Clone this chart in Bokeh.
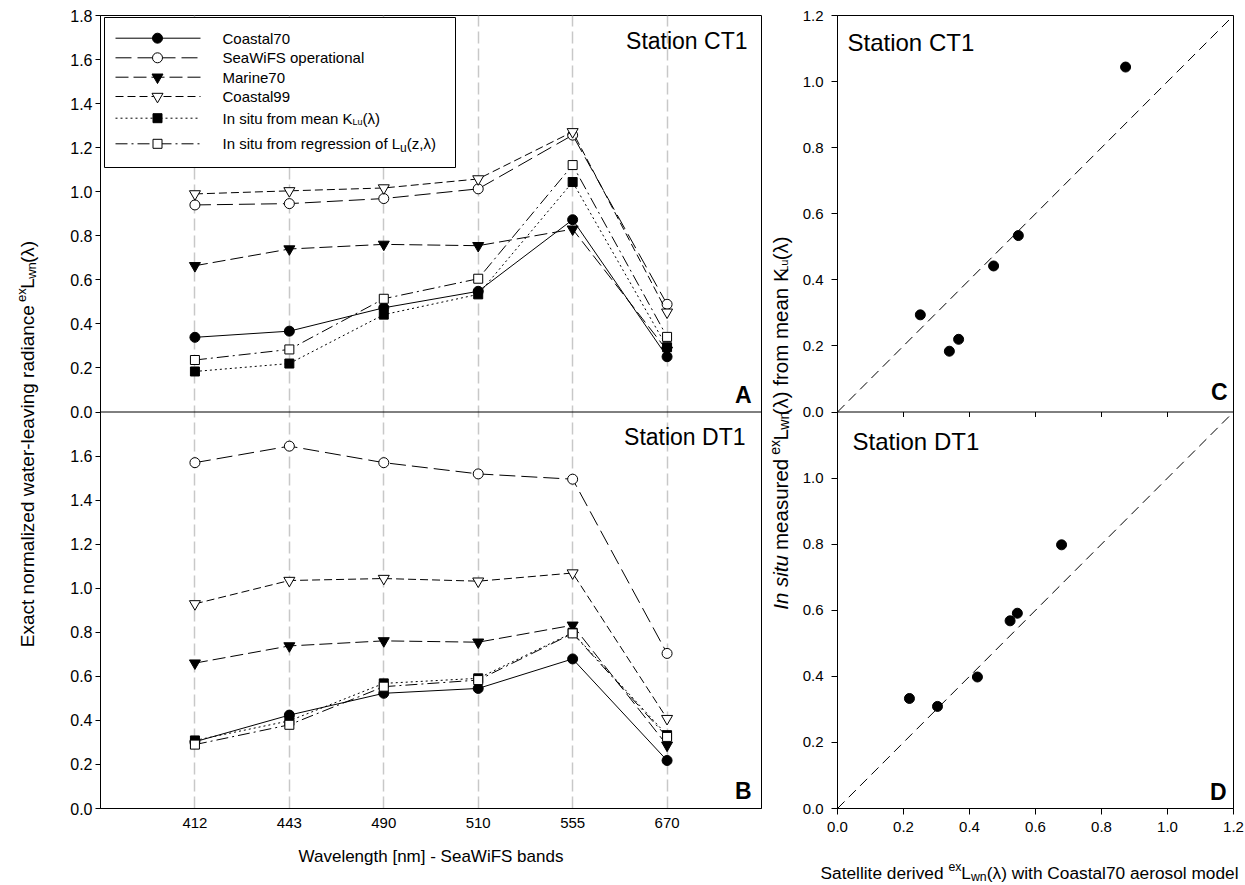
import math
from bokeh.plotting import figure
from bokeh.models import Range1d, FixedTicker, CustomJSTickFormatter, Label, Span
from bokeh.layouts import row, column
from bokeh.embed import file_html
from bokeh.resources import INLINE

# ---------------- data ----------------
bands = ["412", "443", "490", "510", "555", "670"]

# Station CT1 (panel A)
ct1_coastal70 = [0.339, 0.367, 0.473, 0.548, 0.873, 0.251]
ct1_seawifs = [0.940, 0.946, 0.969, 1.013, 1.257, 0.489]
ct1_marine70 = [0.664, 0.740, 0.761, 0.755, 0.830, 0.280]
ct1_coastal99 = [0.990, 1.004, 1.017, 1.058, 1.272, 0.453]
ct1_insitu_meank = [0.184, 0.220, 0.442, 0.534, 1.044, 0.294]
ct1_insitu_regr = [0.236, 0.284, 0.514, 0.605, 1.121, 0.341]

# Station DT1 (panel B)
dt1_coastal70 = [0.303, 0.424, 0.523, 0.545, 0.679, 0.218]
dt1_seawifs = [1.570, 1.645, 1.570, 1.519, 1.495, 0.704]
dt1_marine70 = [0.660, 0.738, 0.761, 0.755, 0.832, 0.287]
dt1_coastal99 = [0.929, 1.035, 1.044, 1.032, 1.069, 0.408]
dt1_insitu_meank = [0.309, 0.398, 0.568, 0.591, 0.798, 0.333]
dt1_insitu_regr = [0.290, 0.380, 0.553, 0.583, 0.795, 0.325]

ticks_ab = [0.0, 0.2, 0.4, 0.6, 0.8, 1.0, 1.2, 1.4, 1.6, 1.8]
ticks_cd = [0.0, 0.2, 0.4, 0.6, 0.8, 1.0, 1.2]

ct1 = [ct1_coastal70, ct1_seawifs, ct1_marine70, ct1_coastal99, ct1_insitu_meank, ct1_insitu_regr]
dt1 = [dt1_coastal70, dt1_seawifs, dt1_marine70, dt1_coastal99, dt1_insitu_meank, dt1_insitu_regr]

# ---------------- styles ----------------
FONT = "Liberation Sans"
line_dashes = ["solid", "16 6", "13 5", "8 4", "2 3", "12 4 2 4"]
markers = ["circle", "circle", "inverted_triangle", "inverted_triangle", "square", "square"]
fills = ["black", "white", "black", "white", "black", "white"]
sizes = [10, 10, 11, 11, 9, 9]

A_MAX = ticks_ab[-1]
C_MAX = ticks_cd[-1]

# geometry (page pixels)
W, H = 1245, 885
TOP_H = 845                     # height of the row holding the panels
TOP, BOT = 15, TOP_H - 808
LT_W = 58                       # strip for left y title
L_W, L_BL, L_BR = 704, 42, 1    # left figure (frame 100..761)
MT_W = 36                       # strip for right y title (762..798)
R_W, R_BL, R_BR = W - LT_W - L_W - MT_W, 39, 12   # right figure (frame 837..1233)
LX0, LX1 = LT_W + L_BL, LT_W + L_W - L_BR
RX0, RX1 = LT_W + L_W + MT_W + R_BL, W - R_BR
Y0, Y1 = TOP_H - BOT, TOP

xs = list(range(1, len(bands) + 1))
L_XMAX = len(bands) + 1


def lx(px):
    return (px - LX0) / (LX1 - LX0) * L_XMAX


def ly(py):
    return (Y0 - py) / (Y0 - Y1) * (2 * A_MAX)


def rx(px):
    return (px - RX0) / (RX1 - RX0) * C_MAX


def ry(py):
    return (Y0 - py) / (Y0 - Y1) * (2 * C_MAX)


def ident(v):
    return v


CW = {' ': 278, '(': 333, ')': 333, '-': 333, '.': 278, ',': 278, '[': 278, ']': 278,
      'A': 667, 'B': 667, 'C': 722, 'D': 722, 'E': 667, 'F': 611, 'I': 278, 'K': 667,
      'L': 556, 'M': 833, 'S': 667, 'T': 611, 'W': 944,
      'a': 556, 'b': 556, 'c': 500, 'd': 556, 'e': 556, 'f': 278, 'g': 556, 'h': 556,
      'i': 222, 'l': 222, 'm': 833, 'n': 556, 'o': 556, 'p': 556, 'r': 333, 's': 500,
      't': 278, 'u': 556, 'v': 500, 'w': 722, 'x': 500, 'z': 500, 'λ': 500}


def tw(text, size):
    return sum(CW.get(c, 556) for c in text) * size / 1000.0


def layout_pieces(pieces, k=1.0):
    pos = 0.0
    out = []
    for piece in pieces:
        t, s, off, style = piece[:4]
        extra = piece[4] if len(piece) > 4 else 0.0
        core = t.strip(" ")
        lead = len(t) - len(t.lstrip(" "))
        trail = len(t) - len(t.rstrip(" "))
        pos += lead * tw(" ", s) * k
        w = tw(core, s) * k
        out.append((core, s, off, style, pos + w / 2))
        pos += w + trail * tw(" ", s) * k + extra
    return out, pos


def mk_label(x, y, text, size, style, angle=0.0):
    return Label(x=x, y=y, text=text, angle=angle, text_font=FONT, text_font_size=f"{size}px",
                 text_font_style=style, text_align="center", text_baseline="middle",
                 text_color="black")


def rich_h(fig, fx, fy, px, py_center, pieces, align="left"):
    items, total = layout_pieces(pieces)
    start = px - (total / 2 if align == "center" else 0)
    for core, s, off, style, c in items:
        fig.add_layout(mk_label(fx(start + c), fy(py_center + off), core, s, style))


def rich_v(fig, fx, fy, px_center, py_center, pieces, k=1.02):
    items, total = layout_pieces(pieces, k)
    start = py_center + total / 2
    for core, s, off, style, c in items:
        fig.add_layout(mk_label(fx(px_center + off), fy(start - c), core, s, style, math.pi / 2))


def simple_label(fig, x, y, text, size, align, style="normal"):
    fig.add_layout(Label(x=x, y=y, text=text, text_font=FONT, text_font_size=f"{size}px",
                         text_font_style=style, text_align=align, text_baseline="middle",
                         text_color="black"))


def strip(width, height, x0, x1, y_top, y_bottom):
    f = figure(width=width, height=height, x_range=Range1d(x0, x1),
               y_range=Range1d(y_bottom, y_top), x_axis_type=None, y_axis_type=None,
               output_backend="svg", toolbar_location=None, min_border=0,
               min_border_left=0, min_border_right=0, min_border_top=0, min_border_bottom=0,
               background_fill_color="white", border_fill_color="white")
    f.outline_line_color = None
    return f


# ---------------- left figure (panels A & B) ----------------
left = figure(width=L_W, height=TOP_H, x_range=Range1d(0, L_XMAX), y_range=Range1d(0, 2 * A_MAX),
              output_backend="svg", toolbar_location=None,
              min_border_left=L_BL, min_border_right=L_BR, min_border_top=TOP, min_border_bottom=BOT,
              background_fill_color="white", border_fill_color="white")
left.extra_y_ranges = {"A": Range1d(-A_MAX, A_MAX), "B": Range1d(0, 2 * A_MAX)}
left.outline_line_color = "black"
left.outline_line_width = 1

xt = FixedTicker(ticks=xs)
left.xaxis.ticker = xt
left.xgrid.ticker = xt
left.xaxis.formatter = CustomJSTickFormatter(args=dict(bands=bands),
                                             code="return bands[Math.round(tick) - 1];")
left.yaxis.ticker = FixedTicker(ticks=ticks_ab[:-1] + [t + A_MAX for t in ticks_ab])
left.yaxis.formatter = CustomJSTickFormatter(
    args=dict(split=A_MAX),
    code="var v = tick > split - 1e-6 ? tick - split : tick; return Math.abs(v).toFixed(1);")
left.ygrid.visible = False
left.xgrid.grid_line_color = "#c8c8c8"
left.xgrid.grid_line_dash = "12 5"
left.xgrid.grid_line_width = 1.5

for ax in left.axis:
    ax.axis_line_color = "black"
    ax.major_tick_line_color = "black"
    ax.minor_tick_line_color = None
    ax.major_label_text_font = FONT
    ax.major_label_text_color = "black"
left.xaxis.major_tick_out = 0
left.xaxis.major_tick_in = 0
left.xaxis.major_label_standoff = 9
left.xaxis.major_label_text_font_size = "15px"
left.yaxis.major_tick_out = 5
left.yaxis.major_tick_in = 0
left.yaxis.major_label_standoff = 3
left.yaxis.major_label_text_font_size = "16px"

left.add_layout(Span(location=A_MAX, dimension="width", line_color="black", line_width=1))

# legend box
left.quad(left=lx(104), right=lx(455), bottom=ly(167), top=ly(17),
          fill_color="white", line_color="black", line_width=1)

for i in range(6):
    for vals, rng in ((ct1[i], "A"), (dt1[i], "B")):
        left.line(xs, vals, y_range_name=rng, line_color="black", line_width=1,
                  line_dash=line_dashes[i])
        left.scatter(xs, vals, y_range_name=rng, marker=markers[i], size=sizes[i],
                     fill_color=fills[i], line_color="black", line_width=1)

# legend entries
leg_rows = [37.7, 57.3, 76.7, 96.0, 117.7, 143.3]
leg_texts = [
    [("Coastal70", 15, 0, "normal")],
    [("SeaWiFS operational", 15, 0, "normal")],
    [("Marine70", 15, 0, "normal")],
    [("Coastal99", 15, 0, "normal")],
    [("In situ from mean K", 15, 0, "normal"), ("Lu", 9, 4, "normal"), ("(λ)", 15, 0, "normal")],
    [("In situ from regression of L", 15, 0, "normal"), ("u", 12, 4, "normal"),
     ("(z,λ)", 15, 0, "normal")],
]
for i, py in enumerate(leg_rows):
    left.line([lx(115), lx(200)], [ly(py), ly(py)], line_color="black", line_width=1,
              line_dash=line_dashes[i])
    left.scatter([lx(157)], [ly(py)], marker=markers[i], size=sizes[i],
                 fill_color=fills[i], line_color="black", line_width=1)
    rich_h(left, lx, ly, 222, py, leg_texts[i])

simple_label(left, lx(747), ly(40), "Station CT1", 23, "right")
simple_label(left, lx(745), ly(436), "Station DT1", 23, "right")
simple_label(left, lx(751), ly(394), "A", 23, "right", "bold")
simple_label(left, lx(751), ly(790), "B", 23, "right", "bold")

# ---------------- right figure (panels C & D) ----------------
right = figure(width=R_W, height=TOP_H, x_range=Range1d(0, C_MAX), y_range=Range1d(0, 2 * C_MAX),
               output_backend="svg", toolbar_location=None,
               min_border_left=R_BL, min_border_right=R_BR, min_border_top=TOP, min_border_bottom=BOT,
               background_fill_color="white", border_fill_color="white")
right.extra_y_ranges = {"C": Range1d(-C_MAX, C_MAX), "D": Range1d(0, 2 * C_MAX)}
right.outline_line_color = "black"
right.outline_line_width = 1
right.grid.visible = False
right.xaxis.ticker = FixedTicker(ticks=ticks_cd)
right.xaxis.formatter = CustomJSTickFormatter(code="return Math.abs(tick).toFixed(1);")
right.yaxis.ticker = FixedTicker(ticks=ticks_cd[:-1] + [t + C_MAX for t in ticks_cd])
right.yaxis.formatter = CustomJSTickFormatter(
    args=dict(split=C_MAX),
    code="var v = tick > split - 1e-6 ? tick - split : tick; return Math.abs(v).toFixed(1);")
for ax in right.axis:
    ax.axis_line_color = "black"
    ax.major_tick_line_color = "black"
    ax.minor_tick_line_color = None
    ax.major_tick_out = 6
    ax.major_tick_in = 0
    ax.major_label_text_font = FONT
    ax.major_label_text_color = "black"
    ax.major_label_text_font_size = "15px"
right.xaxis.major_label_standoff = 7
right.yaxis.major_label_standoff = 8

right.add_layout(Span(location=C_MAX, dimension="width", line_color="black", line_width=1))
# tick marks of panel C's x axis on the C/D boundary
inner_ticks = ticks_cd[1:-1]
tick_len = 5 / (Y0 - Y1) * (2 * C_MAX)
right.segment(x0=inner_ticks, y0=[C_MAX] * len(inner_ticks), x1=inner_ticks,
              y1=[C_MAX - tick_len] * len(inner_ticks), line_color="black", line_width=1)

for rng in ("C", "D"):
    right.line([0, C_MAX], [0, C_MAX], y_range_name=rng, line_color="black", line_width=1,
               line_dash="10 6")
right.scatter(ct1_coastal70, ct1_insitu_meank, y_range_name="C", marker="circle", size=10,
              fill_color="black", line_color="black")
right.scatter(dt1_coastal70, dt1_insitu_meank, y_range_name="D", marker="circle", size=10,
              fill_color="black", line_color="black")

simple_label(right, rx(847), ry(42), "Station CT1", 24, "left")
simple_label(right, rx(852), ry(441), "Station DT1", 24, "left")
simple_label(right, rx(1227), ry(391), "C", 23, "right", "bold")
simple_label(right, rx(1226), ry(791), "D", 23, "right", "bold")

# ---------------- title strips ----------------
ltitle = strip(LT_W, TOP_H, 0, LT_W, 0, TOP_H)
rich_v(ltitle, ident, ident, 27, 453,
       [("Exact normalized water-leaving radiance ", 19, 0, "normal", 6),
        ("ex", 13, -6, "normal"), ("L", 19, 0, "normal"), ("wn", 13, 3.5, "normal"),
        ("(λ)", 19, 0, "normal")])

mx0 = LT_W + L_W
mtitle = strip(MT_W, TOP_H, mx0, mx0 + MT_W, 0, TOP_H)
rich_v(mtitle, ident, ident, 780, 434,
       [("In situ ", 20.5, 0, "italic", 3), ("measured ", 20.5, 0, "normal", 1),
        ("ex", 14, -6, "normal"), ("L", 20.5, 0, "normal"), ("wn", 14, 3, "normal"),
        ("(λ) from mean K", 20.5, 0, "normal"), ("Lu", 11, 3, "normal"),
        ("(λ)", 20.5, 0, "normal")])

bottom = strip(W, H - TOP_H, 0, W, TOP_H, H)
simple_label(bottom, (LX0 + LX1) / 2, 856, "Wavelength [nm] - SeaWiFS bands", 17, "center")
rich_h(bottom, ident, ident, 820, 872,
       [("Satellite derived ", 17.3, 0, "normal"), ("ex", 12.3, -6, "normal"),
        ("L", 17.3, 0, "normal"), ("wn", 12.3, 4.5, "normal"),
        ("(λ) with Coastal70 aerosol model", 17.3, 0, "normal")])

layout = column(row(ltitle, left, mtitle, right), bottom)
open("out.html", "w").write(file_html(layout, INLINE))
